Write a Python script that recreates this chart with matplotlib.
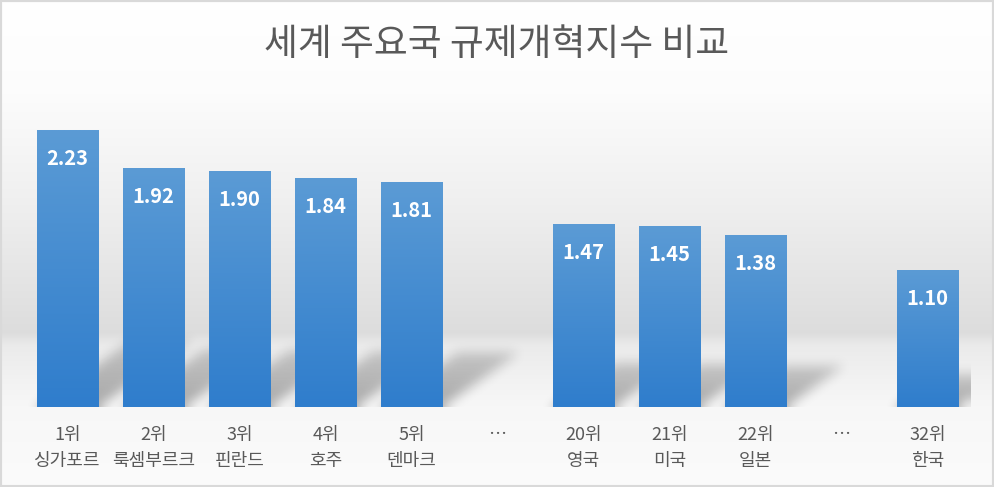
import numpy as np
import matplotlib
matplotlib.use('Agg')
import matplotlib.pyplot as plt
from matplotlib.colors import LinearSegmentedColormap
from matplotlib.patches import Rectangle

plt.rcParams['font.family'] = ['Noto Sans CJK KR', 'DejaVu Sans']

# ---- data ----
title = '세계 주요국 규제개혁지수 비교'
ranks = ['1위', '2위', '3위', '4위', '5위', '…', '20위', '21위', '22위', '…', '32위']
countries = ['싱가포르', '룩셈부르크', '핀란드', '호주', '덴마크', '', '영국', '미국', '일본', '', '한국']
values = [2.23, 1.92, 1.90, 1.84, 1.81, None, 1.47, 1.45, 1.38, None, 1.10]

W, H = 994, 487
fig = plt.figure(figsize=(W / 100, H / 100), dpi=100)

# ---- background gradient ----
bg = fig.add_axes([0, 0, 1, 1], zorder=-10)
ys = np.array([0, 90, 200, 300, 332, 345, 380, 407, 487])
vs = np.array([1.0, 0.99, 0.94, 0.885, 0.865, 0.92, 0.95, 0.97, 0.985])
rows = np.interp(np.arange(H), ys, vs)
img = np.repeat(rows[:, None], 4, axis=1)
bg.imshow(np.dstack([img, img, img]), aspect='auto', extent=[0, 1, 0, 1], origin='upper')
bg.set_axis_off()

# ---- main axes ----
x0_px, x1_px, base_px = 24.5, 970.5, 407
px_per_unit = 124.2
ymax = 2.6
ax = fig.add_axes([x0_px / W, (H - base_px) / H, (x1_px - x0_px) / W, ymax * px_per_unit / H])
ax.patch.set_visible(False)
n = len(ranks)
xs = np.arange(n)
bw = 0.71

# ---- shadows (blurred parallelograms) ----
gw = int(x1_px - x0_px)
sh_top = 0.8
gh = int(sh_top * px_per_unit)
gx = np.linspace(-0.5, n - 0.5, gw)
gy = np.linspace(0, sh_top, gh)
GX, GY = np.meshgrid(gx, gy)
mask = np.zeros_like(GX)
for i, v in enumerate(values):
    if v is None:
        continue
    hgt = 0.24 * v
    t = GY / hgt
    dx = 0.49 * v * t
    inside = (t <= 1) & (GX >= i - bw / 2 + dx) & (GX <= i + bw / 2 + dx)
    mask = np.maximum(mask, np.where(inside, 1.0 - 0.45 * np.clip(t, 0, 1), 0))


def box_blur(a, r, axis):
    pad = [(0, 0), (0, 0)]
    pad[axis] = (r, r)
    p = np.pad(a, pad, mode='edge')
    c = np.cumsum(p, axis=axis)
    c = np.insert(c, 0, 0, axis=axis)
    if axis == 0:
        return (c[2 * r + 1:, :] - c[:-2 * r - 1, :]) / (2 * r + 1)
    return (c[:, 2 * r + 1:] - c[:, :-2 * r - 1]) / (2 * r + 1)


for _ in range(3):
    mask = box_blur(mask, 5, 0)
    mask = box_blur(mask, 5, 1)
shadow = np.zeros((gh, gw, 4))
shadow[..., 3] = mask * 0.32
ax.imshow(shadow, extent=[-0.5, n - 0.5, 0, sh_top], origin='lower', aspect='auto', zorder=1)

# ---- bars with vertical gradient ----
cmap = LinearSegmentedColormap.from_list('bar', ['#2f7dcc', '#5b9bd5'])
grad = np.linspace(0, 1, 256)[:, None]
for i, v in enumerate(values):
    if v is None:
        continue
    ax.imshow(grad, cmap=cmap, extent=[i - bw / 2, i + bw / 2, 0, v], origin='lower',
              aspect='auto', zorder=3)
    ax.text(i, v - 28 / px_per_unit, f'{v:.2f}', ha='center', va='center', color='white',
            fontsize=14.5, fontweight='bold', zorder=5)

ax.set_xlim(-0.5, n - 0.5)
ax.set_ylim(0, ymax)
labels = [f'{r}\n{c}' if c else r for r, c in zip(ranks, countries)]
ax.set_xticks(xs)
ax.set_xticklabels(labels, fontsize=13, color='#595959', linespacing=1.56)
ax.tick_params(axis='x', length=0, pad=13.5)
ax.set_yticks([])
for s in ax.spines.values():
    s.set_visible(False)

fig.text(0.5, 1 - 45 / H, title, ha='center', va='center', fontsize=26.5, color='#595959')

fig.patches.append(Rectangle((0, 0), 1, 1, transform=fig.transFigure, fill=False,
                             edgecolor='#d9d9d9', lw=3))

fig.savefig('out.png', dpi=100)
